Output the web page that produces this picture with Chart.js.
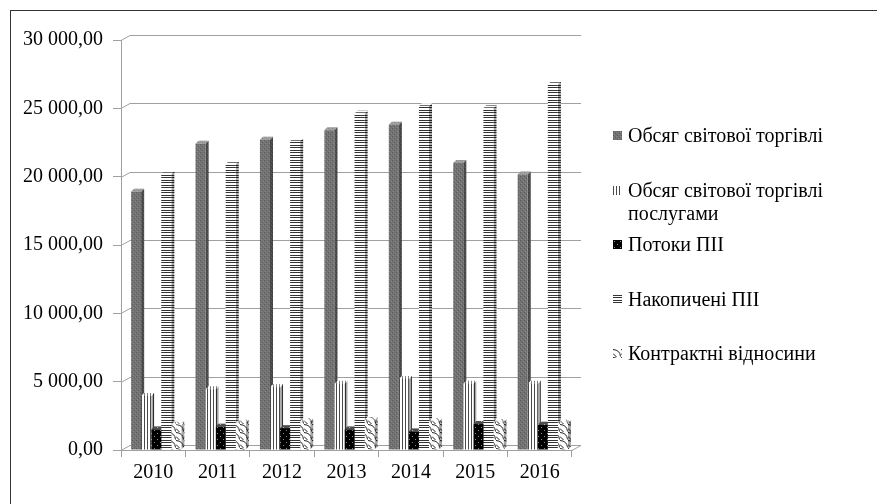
<!DOCTYPE html>
<html>
<head>
<meta charset="utf-8">
<script src="https://cdn.jsdelivr.net/npm/chart.js@4"></script>
<style>
  body { margin: 0; background: #fff; overflow: hidden; }
  #wrap { position: relative; width: 877px; height: 504px; overflow: hidden; }
  #frame { position: absolute; left: 10px; top: 10px; right: -5px; bottom: -5px; border-left: 1px solid #333; border-top: 1px solid #333; pointer-events: none; }
  #legend { position: absolute; left: 0; top: 0; font-family: "Liberation Serif", serif; font-size: 20px; color: #000; }
  .item { position: absolute; left: 613px; width: 250px; line-height: 23px; }
  .item canvas { position: absolute; left: 0; top: 7px; }
  .item span { display: block; padding-left: 15px; }
</style>
</head>
<body>
<div id="wrap">
  <canvas id="myChart" width="877" height="504"></canvas>
  <div id="legend"></div>
  <div id="frame"></div>
</div>
<script>
// data
const years = ["2010", "2011", "2012", "2013", "2014", "2015", "2016"];
const seriesNames = [
  "Обсяг світової торгівлі",
  "Обсяг світової торгівлі послугами",
  "Потоки ПІІ",
  "Накопичені ПІІ",
  "Контрактні відносини",
];
const tradeVolume = [18900, 22400, 22700, 23400, 23800, 21000, 20150];
const servicesTrade = [3950, 4450, 4600, 4850, 5200, 4850, 4850];
const fdiFlows = [1500, 1700, 1600, 1500, 1350, 1900, 1850];
const fdiStock = [20200, 20900, 22600, 24600, 25150, 25000, 26750];
const contractual = [1850, 2000, 2100, 2200, 2100, 2050, 2000];
const yMin = 0, yMax = 30000, yStep = 5000;

const FONT = { family: "'Liberation Serif', serif", size: 20 };

// pattern tiles
function tile(w, h, draw) {
  const c = document.createElement("canvas");
  c.width = w; c.height = h;
  const g = c.getContext("2d");
  draw(g);
  return c;
}
function px(g, col, pts) {
  g.fillStyle = col;
  pts.forEach(p => g.fillRect(p[0], p[1], 1, 1));
}
const tiles = [
  // dark grey, grainy
  tile(4, 4, g => {
    g.fillStyle = "#737373"; g.fillRect(0, 0, 4, 4);
    px(g, "#5a5a5a", [[0, 0], [2, 2]]);
    px(g, "#888", [[1, 3], [3, 1]]);
  }),
  // vertical lines
  tile(3, 3, g => {
    g.fillStyle = "#fff"; g.fillRect(0, 0, 3, 3);
    g.fillStyle = "#4a4a4a"; g.fillRect(0, 0, 1, 3);
  }),
  // black with dots
  tile(6, 6, g => {
    g.fillStyle = "#000"; g.fillRect(0, 0, 6, 6);
    px(g, "#8a8a8a", [[1, 1], [4, 4]]);
  }),
  // horizontal lines
  tile(5, 5, g => {
    g.fillStyle = "#fff"; g.fillRect(0, 0, 5, 5);
    g.fillStyle = "#333"; g.fillRect(0, 0, 5, 1); g.fillRect(0, 2, 5, 1);
  }),
  // zigzag / wave
  tile(8, 8, g => {
    g.fillStyle = "#fff"; g.fillRect(0, 0, 8, 8);
    g.strokeStyle = "#222"; g.lineWidth = 1;
    g.beginPath();
    g.moveTo(0, 0.5); g.quadraticCurveTo(7, 1, 7.5, 7.5);
    g.moveTo(0, 4.5); g.lineTo(3.5, 8);
    g.stroke();
  }),
];

const scratch = document.getElementById("myChart").getContext("2d");
const patterns = tiles.map(t => scratch.createPattern(t, "repeat"));
const seriesData = [tradeVolume, servicesTrade, fdiFlows, fdiStock, contractual];

// 3D-ish back walls, floor, bar tops and sides
const DX = 9, DY = 5, D = 3, SHIFT = 3;
const depthPlugin = {
  id: "depth",
  afterDatasetsUpdate(chart) {
    chart.data.datasets.forEach((ds, i) => {
      chart.getDatasetMeta(i).data.forEach(el => { el.x += SHIFT; });
    });
  },
  beforeDatasetsDraw(chart) {
    const { ctx, chartArea: a, scales } = chart;
    const y = scales.y;
    ctx.save();
    ctx.strokeStyle = "#a0a0a0";
    ctx.lineWidth = 1;
    y.ticks.forEach(t => {
      const py = Math.round(y.getPixelForValue(t.value)) + 0.5;
      ctx.beginPath();
      ctx.moveTo(a.left, py);
      ctx.lineTo(a.left + DX, py - DY);
      ctx.lineTo(a.right + DX, py - DY);
      if (t.value === yMin) {
        ctx.moveTo(a.right, py);
        ctx.lineTo(a.right + DX, py - DY);
      }
      ctx.stroke();
    });
    // sides and tops of bars
    chart.data.datasets.forEach((ds, i) => {
      const pat = patterns[i];
      chart.getDatasetMeta(i).data.forEach(el => {
        const l = el.x - el.width / 2, r = el.x + el.width / 2;
        const top = el.y, base = el.base;
        // side
        ctx.beginPath();
        ctx.moveTo(r, top); ctx.lineTo(r + D, top - D);
        ctx.lineTo(r + D, base - D); ctx.lineTo(r, base);
        ctx.closePath();
        ctx.fillStyle = pat; ctx.fill();
        ctx.fillStyle = "rgba(0,0,0,0.35)"; ctx.fill();
        // top
        ctx.beginPath();
        ctx.moveTo(l, top); ctx.lineTo(l + D, top - D);
        ctx.lineTo(r + D, top - D); ctx.lineTo(r, top);
        ctx.closePath();
        ctx.fillStyle = pat; ctx.fill();
        ctx.fillStyle = "rgba(255,255,255,0.3)"; ctx.fill();
      });
    });
    ctx.restore();
  },
};

function fmt(v) {
  const s = String(Math.round(v)).replace(/\B(?=(\d{3})+(?!\d))/g, " ");
  return s + ",00";
}

const chart = new Chart(document.getElementById("myChart"), {
  type: "bar",
  data: {
    labels: years,
    datasets: seriesNames.map((name, i) => ({
      label: name,
      data: seriesData[i],
      backgroundColor: patterns[i],
      borderWidth: 0,
      categoryPercentage: 0.78,
      barPercentage: 1,
    })),
  },
  options: {
    responsive: false,
    animation: false,
    devicePixelRatio: 1,
    layout: { padding: { left: 10, top: 40, right: 305, bottom: 0 } },
    plugins: { legend: { display: false }, tooltip: { enabled: false } },
    scales: {
      x: {
        grid: { drawOnChartArea: false, tickLength: 7, color: "#a0a0a0", offset: true },
        border: { color: "#a0a0a0" },
        ticks: { font: FONT, color: "#000", padding: 4 },
        afterFit: s => { s.height = 54; },
      },
      y: {
        min: yMin,
        max: yMax,
        grid: { drawOnChartArea: false, tickLength: 8, color: "#a0a0a0" },
        border: { color: "#a0a0a0" },
        ticks: { stepSize: yStep, font: FONT, color: "#000", padding: 10, callback: v => fmt(v) },
        afterFit: s => { s.width = 111; },
      },
    },
  },
  plugins: [depthPlugin],
});

// legend (html)
const legendTops = [124, 179, 233, 288, 342];
const legend = document.getElementById("legend");
seriesNames.forEach((name, i) => {
  const item = document.createElement("div");
  item.className = "item";
  item.style.top = legendTops[i] + "px";
  const sw = document.createElement("canvas");
  sw.width = 9; sw.height = 9;
  const g = sw.getContext("2d");
  g.fillStyle = g.createPattern(tiles[i], "repeat");
  g.fillRect(0, 0, 9, 9);
  const txt = document.createElement("span");
  txt.textContent = name;
  item.appendChild(sw);
  item.appendChild(txt);
  legend.appendChild(item);
});
</script>
</body>
</html>
